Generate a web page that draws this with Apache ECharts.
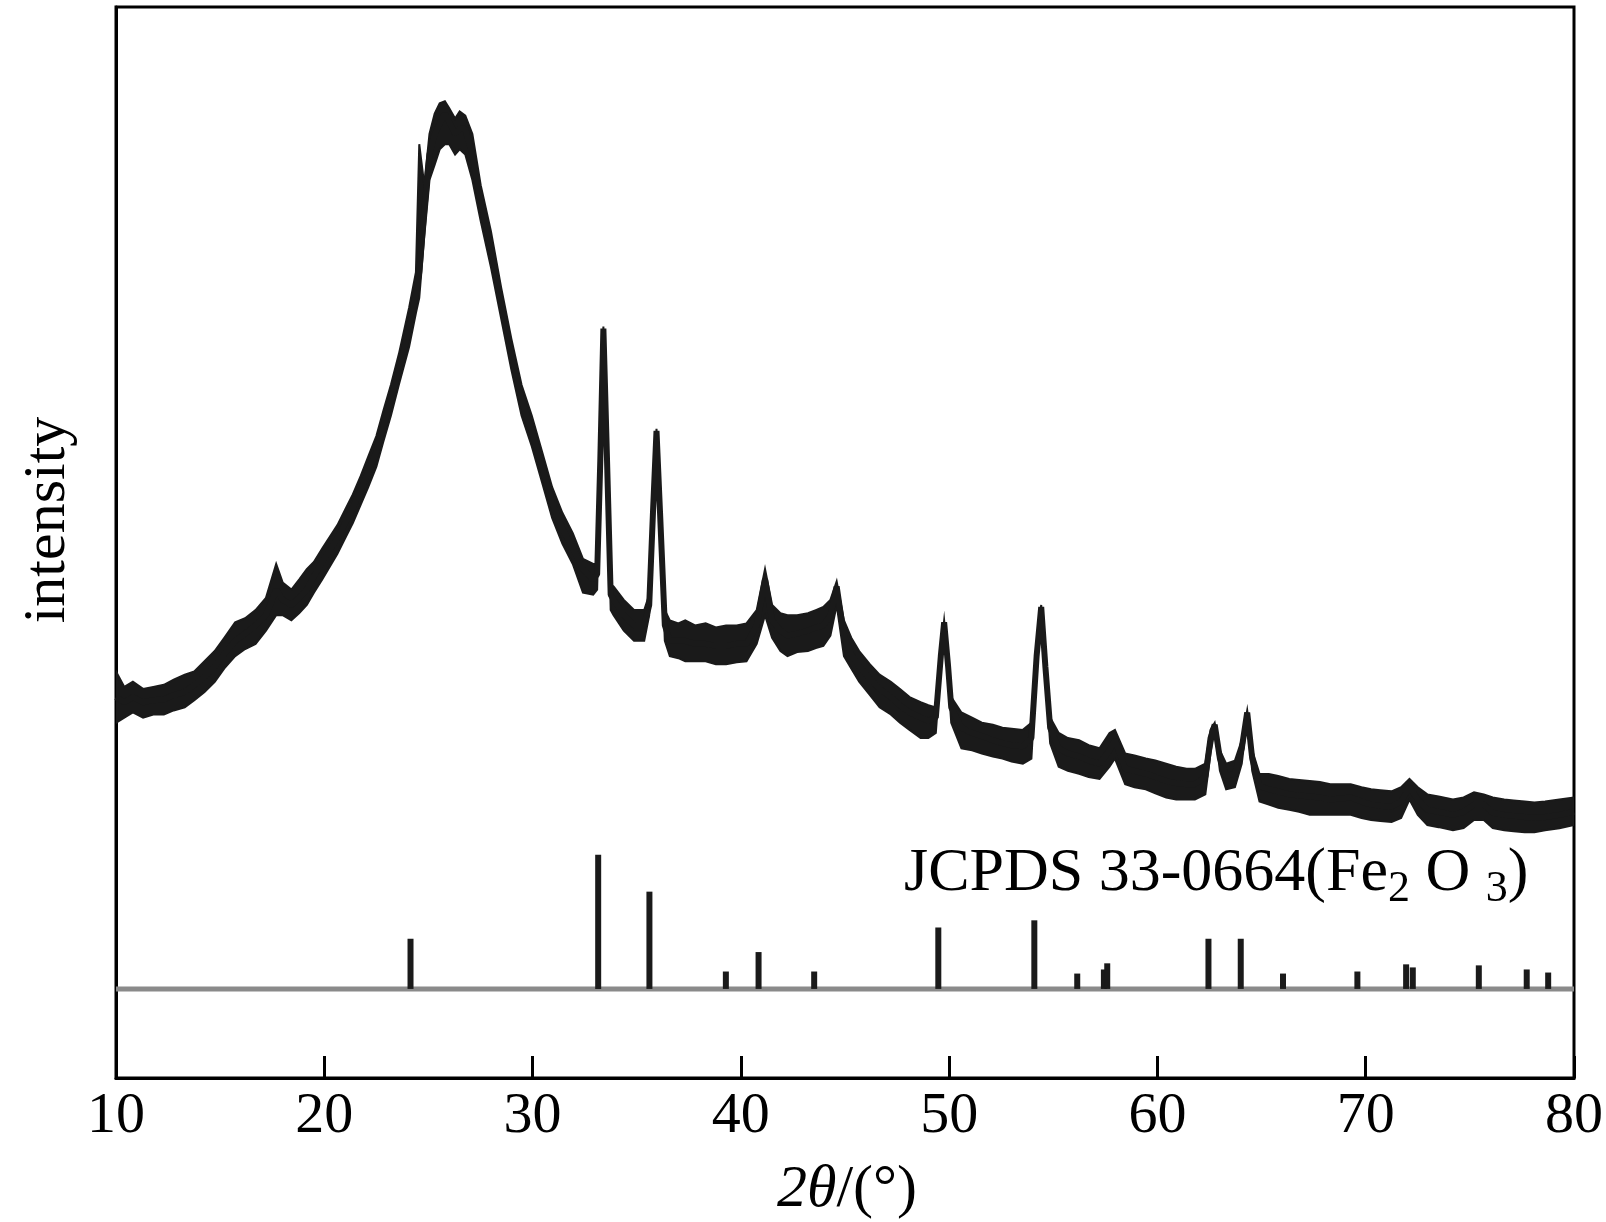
<!DOCTYPE html>
<html><head><meta charset="utf-8">
<script src="https://cdn.jsdelivr.net/npm/echarts@6/dist/echarts.min.js"></script>
<style>html,body{margin:0;padding:0;background:#fff}#c{width:1606px;height:1222px}</style>
</head><body><div id="c"></div>
<script>
// x tick labels
const xTickValues = [10, 20, 30, 40, 50, 60, 70, 80];

// Measured XRD pattern (2θ in degrees, intensity in arbitrary units)
const xrdAngle = [10.0,10.4,10.81,11.3,11.79,12.3,12.77,13.3,13.76,14.25,14.74,15.2,15.72,16.2,16.7,17.2,17.69,18.0,18.42,18.8,19.16,19.5,19.9,20.63,21.0,21.37,21.75,22.11,22.5,22.84,23.2,23.58,24.07,24.4,24.56,24.8,25.05,25.3,25.54,25.79,26.0,26.28,26.5,26.77,27.11,27.51,28.0,28.49,28.98,29.47,29.96,30.45,30.94,31.43,31.93,32.42,32.91,33.1,33.25,33.4,33.55,33.75,33.89,34.38,34.87,35.36,35.6,35.78,35.95,36.12,36.35,36.59,37.0,37.33,37.8,38.31,38.8,39.29,39.8,40.27,40.76,41.16,41.5,41.9,42.24,42.7,43.22,43.6,43.96,44.3,44.6,44.95,45.3,45.68,46.2,46.66,47.2,47.64,48.1,48.63,49.0,49.36,49.6,49.76,49.95,50.1,50.59,51.1,51.57,52.1,52.56,53.0,53.54,53.95,54.2,54.42,54.62,54.85,55.26,55.7,56.24,56.7,57.22,57.7,57.96,58.45,58.9,59.44,59.9,60.42,60.9,61.4,61.8,62.3,62.55,62.75,63.0,63.3,63.72,64.05,64.31,64.55,64.9,65.35,65.8,66.33,66.8,67.31,67.8,68.3,68.8,69.28,69.8,70.26,70.7,71.24,71.7,72.1,72.5,72.96,73.5,74.19,74.7,75.2,75.67,76.1,76.65,77.1,77.63,78.1,78.61,79.3,80.0];
const xrdMid = [372,367,372,367,369,370,374,377,384,392,402,414,427,434,442,452,477,467,462,469,477,490,504,527,542,557,574,592,612,637,662,692,732,767,787,847,902,922,932,942,934,922,927,927,902,857,812,757,707,662,632,597,562,537,517,497,487,492,602,732,622,472,467,452,442,442,462,552,632,552,442,427,427,427,424,424,422,422,424,424,442,487,447,437,432,434,437,440,442,452,480,432,414,402,390,380,372,364,357,352,349,352,412,445,402,362,342,337,334,330,327,325,324,332,412,460,402,342,322,317,314,310,307,320,330,302,300,297,294,290,288,287,287,294,332,345,312,295,297,322,357,312,285,282,280,277,276,275,274,272,273,274,270,267,266,265,270,284,272,262,260,257,260,267,267,259,257,256,255,254,255,257,260];
const xrdLow = [347,352,357,352,355,355,359,362,369,377,387,400,412,419,424,437,452,452,447,454,462,474,487,512,527,542,560,577,597,622,647,677,714,747,762,822,877,892,907,912,912,902,907,902,877,837,792,742,692,647,617,582,547,522,502,474,472,477,597,730,617,457,452,437,427,427,452,547,630,547,427,412,410,407,407,407,404,404,406,407,424,452,430,417,412,416,417,420,422,432,462,412,400,387,374,362,355,347,340,332,332,337,402,440,392,347,322,320,317,314,312,309,307,312,402,456,392,327,304,300,297,294,292,304,312,287,284,282,278,274,272,272,272,277,317,340,300,282,284,307,352,300,270,267,264,262,260,257,257,257,257,257,254,252,251,250,254,272,257,247,245,242,244,252,252,244,242,241,240,240,242,244,247];
const xrdHigh = [397,382,387,380,382,384,389,394,397,407,417,430,445,449,457,469,502,484,477,487,497,504,517,540,555,570,588,607,627,652,677,707,752,787,912,872,922,942,952,954,947,937,944,940,922,872,827,772,722,677,647,612,577,552,532,507,502,502,607,734,627,482,480,467,457,457,472,557,634,557,457,447,444,447,442,444,440,442,442,444,457,497,462,454,452,452,454,457,460,467,485,447,430,417,404,394,387,380,372,367,364,362,417,447,407,372,357,352,347,345,342,341,340,347,422,462,412,352,337,332,330,325,322,337,340,317,315,312,310,307,304,302,302,307,340,347,320,307,310,330,359,320,297,297,295,292,291,290,289,287,287,287,284,282,281,280,284,292,284,277,275,272,274,279,277,274,272,271,270,269,270,272,274];

// JCPDS 33-0664 (Fe2O3) reference lines
const refAngle = [24.14, 33.15, 35.61, 39.28, 40.85, 43.52, 49.48, 54.09, 56.15, 57.43, 57.59, 62.45, 64.0, 66.03, 69.6, 71.94, 72.26, 75.43, 77.73, 78.76];
const refTop = [136, 218, 182, 104, 123, 104, 147, 154, 102, 106, 112, 136, 136, 102, 104, 111, 108, 110, 106, 103];
const refBase = 87;

const FONT = '"Liberation Serif", "Times New Roman", serif';
const INK = '#1a1a1a';

const chart = echarts.init(document.getElementById('c'), null, {renderer: 'canvas'});

const midData = xrdAngle.map((a, i) => [a, xrdMid[i]]);
const refData = refAngle.map((a, i) => [a, refTop[i]]);

chart.setOption({
  animation: false,
  backgroundColor: '#fff',
  grid: {left: 116, right: 29, top: 7, bottom: 144, show: true, borderColor: '#000', borderWidth: 3, containLabel: false},
  xAxis: {
    type: 'value', min: xTickValues[0], max: xTickValues[xTickValues.length - 1], interval: 10,
    axisLine: {lineStyle: {color: '#000', width: 3}},
    axisTick: {inside: true, length: 22, lineStyle: {color: '#000', width: 3}},
    axisLabel: {fontFamily: FONT, fontSize: 58, color: '#000', margin: 10,
      formatter: v => xTickValues.indexOf(v) >= 0 ? String(v) : ''},
    splitLine: {show: false}
  },
  yAxis: {
    type: 'value', min: 0, max: 1046,
    axisLine: {show: true, lineStyle: {color: '#000', width: 3}},
    axisTick: {show: false}, axisLabel: {show: false}, splitLine: {show: false}
  },
  graphic: [
    {type: 'text', x: 48, y: 520, rotation: Math.PI / 2,
      style: {text: 'intensity', fontFamily: FONT, fontSize: 60, fill: '#000', align: 'center', verticalAlign: 'middle'}},
    {type: 'text', x: 847, y: 1190,
      style: {text: '{i|2θ}/(°)', fontFamily: FONT, fontSize: 60, fill: '#000', align: 'center', verticalAlign: 'middle',
        rich: {i: {fontFamily: FONT, fontSize: 60, fontStyle: 'italic', fill: '#000'}}}},
    {type: 'text', x: 904, y: 874,
      style: {text: 'JCPDS 33-0664(Fe{s|2} O {s|3})', fontFamily: FONT, fontSize: 62, fill: '#000', align: 'left', verticalAlign: 'middle',
        rich: {s: {fontFamily: FONT, fontSize: 44, fill: '#000', padding: [30, 0, 0, 0]}}}}
  ],
  series: [
    {type: 'line', data: [[10, refBase], [80, refBase]], symbol: 'none', silent: true,
      lineStyle: {color: '#8a8a8a', width: 5}, z: 1},
    {type: 'custom', data: refData, z: 2, silent: true,
      renderItem: (params, api) => {
        const p1 = api.coord([api.value(0), refBase]);
        const p2 = api.coord([api.value(0), api.value(1)]);
        return {type: 'rect', shape: {x: p1[0] - 3, y: p2[1], width: 6, height: p1[1] - p2[1]}, style: {fill: INK}};
      }},
    // noise band between lower and upper envelopes
    {type: 'custom', data: [[xrdAngle[0], xrdMid[0]]], z: 3, silent: true, clip: true,
      renderItem: (params, api) => {
        const pts = [];
        for (let i = 0; i < xrdAngle.length; i++) pts.push(api.coord([xrdAngle[i], xrdHigh[i]]));
        for (let i = xrdAngle.length - 1; i >= 0; i--) pts.push(api.coord([xrdAngle[i], xrdLow[i]]));
        return {type: 'polygon', shape: {points: pts}, style: {fill: INK, stroke: INK, lineWidth: 2}};
      }},
    {type: 'line', data: midData, symbol: 'none', silent: true,
      lineStyle: {color: INK, width: 6}, z: 4}
  ]
});
</script></body></html>
